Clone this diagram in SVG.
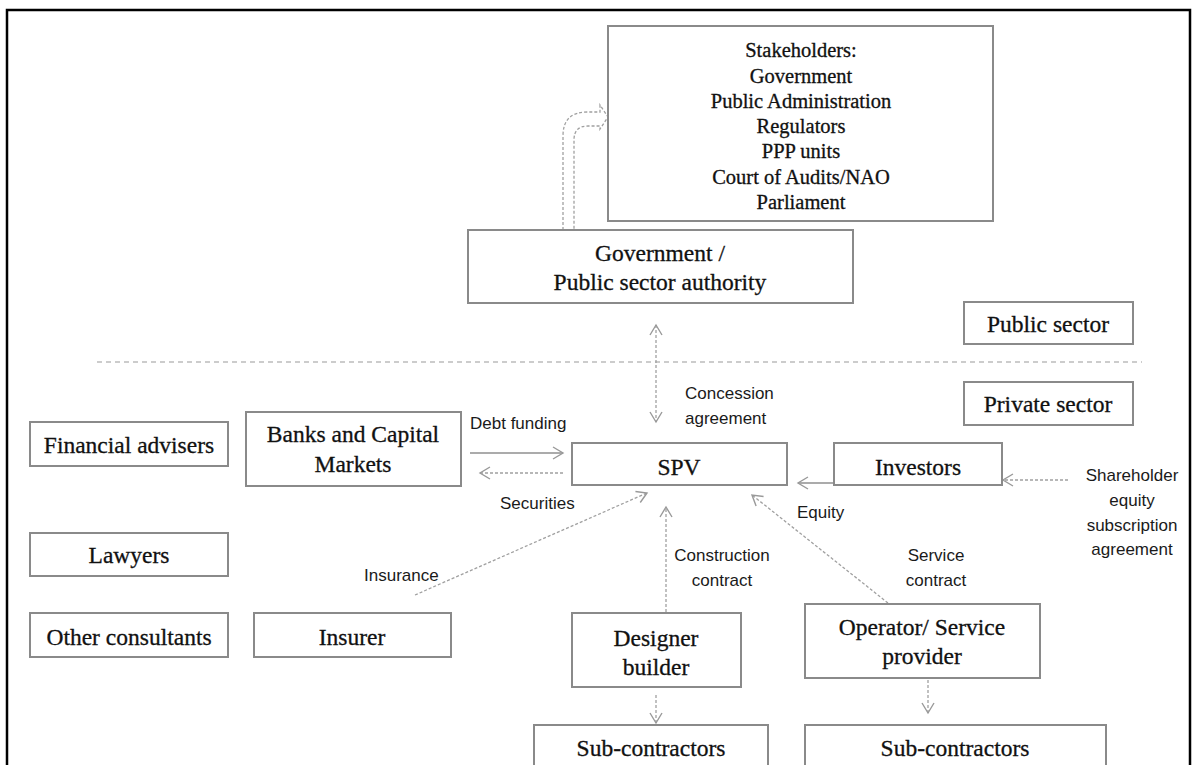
<svg xmlns="http://www.w3.org/2000/svg" width="1197" height="765" viewBox="0 0 1197 765">
  <style>
    .box { fill: #ffffff; stroke: #8a8a8a; stroke-width: 2; }
    .serif { font-family: "Liberation Serif", "Times New Roman", serif; font-size: 23.5px; fill: #111111; stroke: #111111; stroke-width: 0.3; text-anchor: middle; }
    .small { font-size: 20.5px; }
    .label { font-family: "Liberation Sans", Arial, sans-serif; font-size: 17px; fill: #1a1a1a; }
    .mid { text-anchor: middle; }
    .solid { fill: none; stroke: #8f8f8f; stroke-width: 1.4; }
    .dash { fill: none; stroke: #a0a0a0; stroke-width: 1.3; stroke-dasharray: 3 2; }
  </style>
  <defs>
    <marker id="head" markerUnits="userSpaceOnUse" markerWidth="14" markerHeight="16" refX="11" refY="7" orient="auto-start-reverse">
      <path d="M1,1 L11,7 L1,13" fill="none" stroke="#999999" stroke-width="1.4"/>
    </marker>
  </defs>

  <rect width="1197" height="765" fill="#ffffff"/>
  <!-- frame -->
  <path d="M7,765 V10 H1190 V765" fill="none" stroke="#000000" stroke-width="2.5"/>

  <!-- sector divider -->
  <line x1="97" y1="362" x2="1142" y2="362" stroke="#9a9a9a" stroke-width="1.2" stroke-dasharray="5 4"/>

  <g id="connectors">
    <!-- bent arrow to stakeholders -->
    <path class="dash" d="M563,230 V136 Q563,112 587,112 H600 V105 L608,117 L600,129 V126 H588 Q574,126 574,140 V230"/>
    <!-- concession agreement -->
    <line class="dash" x1="656" y1="325" x2="656" y2="422" marker-start="url(#head)" marker-end="url(#head)"/>
    <!-- debt funding / securities -->
    <line class="solid" x1="470" y1="453" x2="563" y2="453" marker-end="url(#head)"/>
    <line class="dash" x1="563" y1="473" x2="480" y2="473" marker-end="url(#head)"/>
    <!-- equity -->
    <line class="solid" x1="834" y1="483" x2="798" y2="483" marker-end="url(#head)"/>
    <!-- shareholder agreement -->
    <line class="dash" x1="1068" y1="480" x2="1003" y2="480" marker-end="url(#head)"/>
    <!-- insurance -->
    <line class="dash" x1="415" y1="595" x2="647" y2="493" marker-end="url(#head)"/>
    <!-- construction contract -->
    <line class="dash" x1="666" y1="612" x2="666" y2="507" marker-end="url(#head)"/>
    <!-- service contract -->
    <line class="dash" x1="888" y1="603" x2="752" y2="495" marker-end="url(#head)"/>
    <!-- sub-contracting -->
    <line class="dash" x1="656" y1="695" x2="656" y2="723" marker-end="url(#head)"/>
    <line class="dash" x1="928" y1="680" x2="928" y2="713" marker-end="url(#head)"/>
  </g>

  <g id="connector-labels">
    <text class="label" x="685" y="399">Concession</text>
    <text class="label" x="685" y="424">agreement</text>
    <text class="label" x="470" y="429">Debt funding</text>
    <text class="label" x="500" y="509">Securities</text>
    <text class="label" x="797" y="518">Equity</text>
    <text class="label" x="364" y="581">Insurance</text>
    <text class="label mid" x="722" y="561">Construction</text>
    <text class="label mid" x="722" y="586">contract</text>
    <text class="label mid" x="936" y="561">Service</text>
    <text class="label mid" x="936" y="586">contract</text>
    <text class="label mid" x="1132" y="481">Shareholder</text>
    <text class="label mid" x="1132" y="506">equity</text>
    <text class="label mid" x="1132" y="531">subscription</text>
    <text class="label mid" x="1132" y="555">agreement</text>
  </g>

  <g id="stakeholders">
    <rect class="box" x="608" y="26" width="385" height="195"/>
    <text class="serif small" x="801" y="57">Stakeholders:</text>
    <text class="serif small" x="801" y="83">Government</text>
    <text class="serif small" x="801" y="108">Public Administration</text>
    <text class="serif small" x="801" y="133">Regulators</text>
    <text class="serif small" x="801" y="158">PPP units</text>
    <text class="serif small" x="801" y="184">Court of Audits/NAO</text>
    <text class="serif small" x="801" y="209">Parliament</text>
  </g>

  <g id="government">
    <rect class="box" x="468" y="230" width="385" height="73"/>
    <text class="serif" x="660" y="261">Government /</text>
    <text class="serif" x="660" y="290">Public sector authority</text>
  </g>

  <g id="public-sector">
    <rect class="box" x="964" y="302" width="169" height="42"/>
    <text class="serif" x="1048" y="332">Public sector</text>
  </g>

  <g id="private-sector">
    <rect class="box" x="964" y="382" width="169" height="43"/>
    <text class="serif" x="1048" y="412">Private sector</text>
  </g>

  <g id="financial-advisers">
    <rect class="box" x="30" y="422" width="198" height="44"/>
    <text class="serif" x="129" y="453">Financial advisers</text>
  </g>

  <g id="banks">
    <rect class="box" x="246" y="412" width="215" height="74"/>
    <text class="serif" x="353" y="442">Banks and Capital</text>
    <text class="serif" x="353" y="472">Markets</text>
  </g>

  <g id="spv">
    <rect class="box" x="572" y="443" width="215" height="42"/>
    <text class="serif" x="679" y="475">SPV</text>
  </g>

  <g id="investors">
    <rect class="box" x="834" y="443" width="168" height="42"/>
    <text class="serif" x="918" y="475">Investors</text>
  </g>

  <g id="lawyers">
    <rect class="box" x="30" y="533" width="198" height="43"/>
    <text class="serif" x="129" y="563">Lawyers</text>
  </g>

  <g id="other-consultants">
    <rect class="box" x="30" y="613" width="198" height="44"/>
    <text class="serif" x="129" y="645">Other consultants</text>
  </g>

  <g id="insurer">
    <rect class="box" x="254" y="613" width="197" height="44"/>
    <text class="serif" x="352" y="645">Insurer</text>
  </g>

  <g id="designer-builder">
    <rect class="box" x="572" y="613" width="169" height="74"/>
    <text class="serif" x="656" y="646">Designer</text>
    <text class="serif" x="656" y="675">builder</text>
  </g>

  <g id="operator">
    <rect class="box" x="805" y="604" width="235" height="74"/>
    <text class="serif" x="922" y="635">Operator/ Service</text>
    <text class="serif" x="922" y="664">provider</text>
  </g>

  <g id="sub-contractors-1">
    <rect class="box" x="534" y="725" width="234" height="60"/>
    <text class="serif" x="651" y="756">Sub-contractors</text>
  </g>

  <g id="sub-contractors-2">
    <rect class="box" x="805" y="725" width="301" height="60"/>
    <text class="serif" x="955" y="756">Sub-contractors</text>
  </g>
</svg>
